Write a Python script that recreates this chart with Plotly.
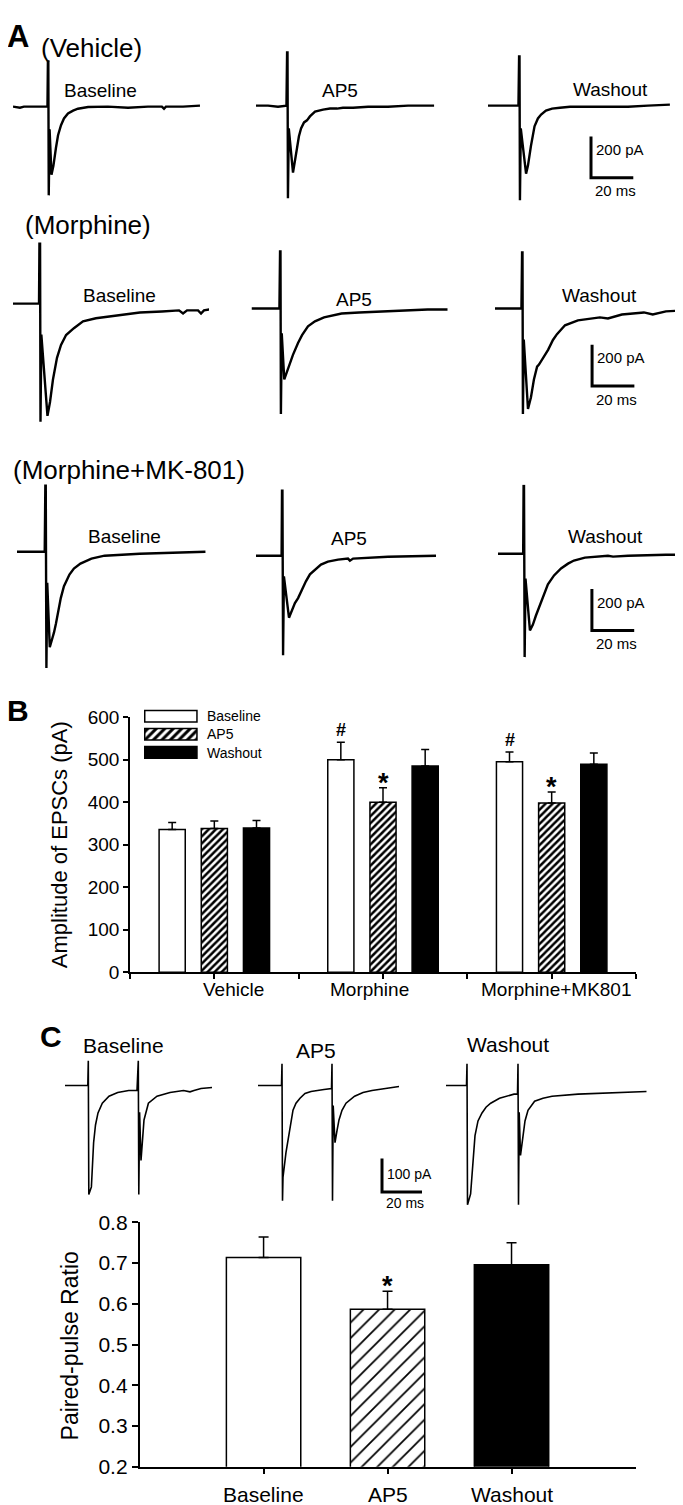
"""Recreation of EPSC / paired-pulse figure: traces (A, C) and bar charts (B, C)"""
import plotly.graph_objects as go

W, H = 683, 1505
FONT = "Liberation Sans, Arial, sans-serif"

# ---------------- data: panel A traces (time in ms, current in pA) ----------------
veh_base_t = [0, 3.3, 5.2, 9.5, 16.3, 16.5, 16.7, 16.9, 17.3, 18.2, 19.1, 20.3, 21.3, 22.7, 24.1, 26, 28.4, 30.7, 35.5, 44.9, 54.4, 63.8, 70.4, 71.4, 72.3, 80.4, 88.4]
veh_base_i = [0, -5, 0, 0, 0, 219, 219, -429, -110, -329, -286, -200, -138, -90, -57, -33, -19, -10, -2, 0, -5, 0, 0, -10, 0, 0, 5]
veh_ap5_t = [0, 5.7, 10.4, 14.4, 14.7, 14.9, 15.1, 15.5, 17.5, 18.4, 19.4, 20.3, 21.3, 22.7, 24.1, 25.5, 27.9, 31.7, 35, 38.3, 41.1, 45.9, 53, 62.4, 71.9, 84.2]
veh_ap5_i = [0, 0, -5, 0, 257, 257, -448, -110, -324, -276, -205, -148, -110, -81, -71, -52, -29, -19, -14, -14, -10, -10, -5, -5, 0, 0]
veh_wash_t = [0, 7.1, 14.4, 14.7, 14.9, 15.1, 15.5, 18, 18.9, 20.3, 22, 23.6, 25.1, 27.4, 30.3, 34, 38.8, 47.3, 56.7, 66.2, 75.6, 86]
veh_wash_i = [0, 0, 0, 238, 238, -457, -110, -329, -290, -195, -100, -62, -43, -24, -14, -10, -5, -5, -5, -5, 0, 5]

mor_base_t = [0, 12.3, 12.5, 12.8, 13, 13.4, 16.3, 17.5, 18.9, 20.8, 22.7, 25.1, 28.8, 33.1, 39.2, 49.6, 60, 70.4, 78.5, 80.4, 82.3, 87.5, 88.9, 90.3, 95]
mor_base_i = [0, 0, 290, 290, -571, -150, -543, -476, -367, -262, -200, -152, -119, -86, -71, -57, -43, -38, -33, -48, -33, -33, -48, -33, -24]
mor_ap5_t = [0, 13.2, 13.5, 13.7, 13.9, 14.3, 15.5, 16.7, 18.2, 19.6, 22, 23.9, 26.7, 30, 34.3, 42.6, 50.9, 61.3, 71.7, 83.3, 94.7]
mor_ap5_i = [0, 0, 276, 276, -510, -120, -343, -305, -262, -224, -167, -129, -86, -62, -43, -24, -19, -14, -10, -5, -5]
mor_wash_t = [0, 12.5, 12.8, 13, 13.2, 13.6, 15.6, 17, 18.4, 19.9, 20.8, 22.7, 25.1, 27.4, 29.3, 33.1, 39.2, 49.6, 53.4, 60, 70.4, 74.6, 80.8, 87.5, 92.2]
mor_wash_i = [0, 0, 271, 271, -510, -150, -486, -429, -343, -281, -271, -238, -200, -152, -124, -81, -57, -43, -48, -29, -19, -29, -14, -10, -19]

mk_base_t = [0, 13.1, 13.4, 13.6, 13.9, 14.3, 15.5, 16.5, 17.5, 18.4, 19.6, 20.7, 22.2, 24.8, 26.9, 30, 35.2, 41.4, 58, 71.4, 89.1]
mk_base_i = [0, 0, 319, 319, -562, -150, -462, -429, -390, -348, -276, -224, -167, -110, -81, -57, -33, -19, -10, -5, 0]
mk_ap5_t = [0, 12.1, 12.3, 12.5, 12.8, 13.2, 15.6, 17, 18.4, 19.9, 21.7, 23.6, 25.5, 27.9, 30.7, 34, 38.8, 43.5, 44.4, 45.9, 62.4, 85.1]
mk_ap5_i = [0, 0, 314, 314, -481, -100, -300, -267, -229, -205, -162, -124, -90, -67, -43, -29, -19, -14, -24, -14, -5, 0]
mk_wash_t = [0, 11.9, 12.1, 12.3, 12.6, 13, 15.1, 16.5, 17.9, 19.4, 21.3, 23.6, 26.5, 29.8, 33.1, 35.9, 41.1, 46.3, 52, 54.4, 61.5, 79.4, 85.6]
mk_wash_i = [0, 0, 329, 329, -500, -120, -371, -343, -300, -262, -205, -148, -105, -71, -48, -33, -19, -14, -10, -14, -10, -5, -5]

# ---------------- data: panel C paired-pulse traces ----------------
pp_base_t = [0, 6.5, 11.4, 11.65, 11.9, 13.2, 14.3, 15.25, 16.5, 18.65, 22, 26.35, 31.85, 34.5, 36, 36.65, 36.9, 37.3, 38, 39.5, 41.7, 46, 52.5, 59.25, 62.5, 64.5, 68, 73.5]
pp_base_i = [0, 0, 0, 74, -326, -303, -171, -118, -82, -53, -32, -21, -15, -15, -15, 74, -326, -80, -224, -103, -53, -32, -21, -15, -19, -15, -9, -6]
pp_ap5_t = [0, 6, 11.75, 12, 12.25, 12.5, 14, 15.5, 16.5, 17.5, 19, 21, 23.5, 26.5, 33, 36.75, 37, 37.25, 37.6, 38.5, 39.5, 40.5, 42, 44, 48.3, 52.5, 57, 70.5]
pp_ap5_i = [0, 0, 0, 65, -344, -274, -200, -150, -106, -74, -53, -38, -24, -18, -12, -9, 65, -344, -60, -171, -135, -103, -74, -53, -32, -21, -15, -3]
pp_wash_t = [0, 6, 10.25, 10.5, 10.75, 12.3, 13.5, 14.5, 16, 18, 20, 22.35, 26.75, 31, 34, 35.75, 36, 36.25, 36.6, 37.25, 38.5, 39.5, 41, 44.3, 48.5, 53, 66, 77, 88, 100.25]
pp_wash_i = [0, 0, 0, 65, -356, -324, -229, -150, -106, -82, -65, -53, -38, -32, -26, -26, 65, -356, -80, -209, -141, -106, -74, -47, -38, -32, -26, -24, -21, -18]

# scale bars (ms, pA)
scale_a = (20, 200)
scale_c = (20, 100)

# ---------------- data: panel B (EPSC amplitude, pA) ----------------
groups = ["Vehicle", "Morphine", "Morphine+MK801"]
conditions = ["Baseline", "AP5", "Washout"]
amp_baseline = [336, 500, 495]
amp_baseline_sem = [16, 41, 23]
amp_ap5 = [338, 400, 398]
amp_ap5_sem = [18, 34, 26]
amp_washout = [339, 485, 489]
amp_washout_sem = [18, 39, 27]

# ---------------- data: panel C (paired-pulse ratio) ----------------
ppr_mean = [0.714, 0.587, 0.696]
ppr_sem = [0.050, 0.044, 0.054]

fig = go.Figure()
layout_axes = {}
annotations = []


def fx(px):
    return px / W


def fy(px):
    return 1 - px / H


def note(text, x, y, size, **kw):
    d = dict(text=text, x=fx(x), y=fy(y), xref="paper", yref="paper", showarrow=False,
             xanchor="center", yanchor="middle",
             font=dict(family=FONT, size=size, color="black"))
    d.update(kw)
    annotations.append(d)


def trace_axes(n, t, i, x0, y0, pxms, pxpa, width, above, below, lw):
    right = min(x0 + width, W)
    layout_axes[f"xaxis{n}"] = dict(domain=[fx(x0), fx(right)], range=[0, (right - x0) / pxms],
                                    visible=False, anchor=f"y{n}", fixedrange=True)
    layout_axes[f"yaxis{n}"] = dict(domain=[fy(y0 + below), fy(y0 - above)],
                                    range=[-below / pxpa, above / pxpa],
                                    visible=False, anchor=f"x{n}", fixedrange=True)
    fig.add_trace(go.Scatter(x=t, y=i, xaxis=f"x{n}", yaxis=f"y{n}", mode="lines",
                             line=dict(color="black", width=lw, shape="linear"),
                             showlegend=False, hoverinfo="skip"))


def scale_bar(n, t0, i0, ms, pa, lw, dy_pa, dy_ms, size, label_pa):
    fig.add_trace(go.Scatter(x=[t0, t0, t0 + ms], y=[i0 + pa, i0, i0], xaxis=f"x{n}", yaxis=f"y{n}",
                             mode="lines", line=dict(color="black", width=lw),
                             showlegend=False, hoverinfo="skip"))
    annotations.append(dict(text=label_pa, x=t0, y=i0 + pa, xref=f"x{n}", yref=f"y{n}",
                            xanchor="left", yanchor="middle", xshift=3, yshift=dy_pa, showarrow=False,
                            font=dict(family=FONT, size=size, color="black")))
    annotations.append(dict(text=f"{ms} ms", x=t0 + ms / 2, y=i0, xref=f"x{n}", yref=f"y{n}",
                            xanchor="center", yanchor="middle", xshift=3, yshift=dy_ms, showarrow=False,
                            font=dict(family=FONT, size=size, color="black")))


# ---------------- panel A ----------------
A_PX_MS, A_PX_PA = 2.115, 0.21
rows_a = [
    [(veh_base_t, veh_base_i, 5, 88), (veh_ap5_t, veh_ap5_i, 248, 87), (veh_wash_t, veh_wash_i, 480, 87)],
    [(mor_base_t, mor_base_i, 5, 288), (mor_ap5_t, mor_ap5_i, 243.5, 293), (mor_wash_t, mor_wash_i, 487, 293)],
    [(mk_base_t, mk_base_i, 9, 540), (mk_ap5_t, mk_ap5_i, 248, 544), (mk_wash_t, mk_wash_i, 490, 542)],
]
bar_pos_a = [(48.7, -349), (45.9, -375), (44.4, -371)]
n = 1
for r, row in enumerate(rows_a):
    for c, (t, i, x0, y0) in enumerate(row):
        trace_axes(n, t, i, x0, y0, A_PX_MS, A_PX_PA, 196, 70, 130, 2.4)
        if c == 2:
            scale_bar(n, bar_pos_a[r][0], bar_pos_a[r][1], scale_a[0], scale_a[1], 3,
                      -13, -13, 15, f"{scale_a[1]} pA")
        n += 1

note("<b>A</b>", 10, 17, 31)
note("(Vehicle)", 83, 28, 26)
note("(Morphine)", 80, 208, 26)
note("(Morphine+MK-801)", 121, 457, 26)
label_pos_a = [[(92, 72), (332, 72), (602, 71)],
               [(111, 280), (346, 284), (591, 280)],
               [(116, 525), (341, 527), (597, 525)]]
for row in label_pos_a:
    for name, (x, y) in zip(conditions, row):
        note(name, x, y, 19)

# ---------------- panel C traces ----------------
C_PX_MS, C_PX_PA = 2.0, 0.34
rows_c = [(pp_base_t, pp_base_i, 57), (pp_ap5_t, pp_ap5_i, 250), (pp_wash_t, pp_wash_i, 438)]
for c, (t, i, x0) in enumerate(rows_c):
    trace_axes(n, t, i, x0, 1082, C_PX_MS, C_PX_PA, 210, 40, 130, 1.6)
    if c == 1:
        scale_bar(n, 62, -318, scale_c[0], scale_c[1], 3, -16, -11, 14, f"{scale_c[1]} pA")
    n += 1
note("<b>C</b>", 43, 1032, 30)
for name, (x, y) in zip(conditions, [(115, 1041), (308, 1047), (500, 1040)]):
    note(name, x, y, 21)

# ---------------- panel B bar chart ----------------
nb = n
styles = [
    dict(color="white", pattern=dict(shape="")),
    dict(color="white", pattern=dict(shape="/", fgcolor="black", bgcolor="white", size=5,
                                     solidity=0.5, fgopacity=1)),
    dict(color="black", pattern=dict(shape="")),
]
series_b = [(amp_baseline, amp_baseline_sem), (amp_ap5, amp_ap5_sem), (amp_washout, amp_washout_sem)]
offsets = [0.25, 0.5, 0.75]
for (vals, sem), sty, off in zip(series_b, styles, offsets):
    fig.add_trace(go.Bar(
        x=[g + off for g in range(len(groups))], y=vals, width=0.155,
        marker=dict(color=sty["color"], pattern=sty["pattern"], line=dict(color="black", width=1.5)),
        error_y=dict(type="data", array=sem, arrayminus=[0] * len(sem), symmetric=False,
                     color="black", thickness=1.5, width=4),
        xaxis=f"x{nb}", yaxis=f"y{nb}", showlegend=False, hoverinfo="skip"))

layout_axes[f"xaxis{nb}"] = dict(domain=[fx(122), fx(628)], range=[0, 3], anchor=f"y{nb}",
                                 showline=True, linecolor="black", linewidth=1.5, ticks="outside",
                                 ticklen=5, tickwidth=1.5, tickcolor="black",
                                 tickvals=[0, 0.5, 1, 1.5, 2, 2.5, 3], showticklabels=False,
                                 showgrid=False, zeroline=False, fixedrange=True)
layout_axes[f"yaxis{nb}"] = dict(domain=[fy(967), fy(708)], range=[0, 600], anchor=f"x{nb}",
                                 showline=True, linecolor="black", linewidth=1.5, ticks="outside",
                                 ticklen=5, tickwidth=1.5, tickcolor="black", dtick=100,
                                 tickfont=dict(family=FONT, size=19, color="black"),
                                 showgrid=False, zeroline=False, fixedrange=True)
for name, xpos in zip(groups, [0.613, 1.42, 2.53]):
    annotations.append(dict(text=name, x=xpos, y=fy(985), xref=f"x{nb}", yref="paper",
                            xanchor="center", yanchor="middle",
                            showarrow=False, font=dict(family=FONT, size=19, color="black")))
note("<b>B</b>", 10, 701, 30)
note("Amplitude of EPSCs (pA)", 51, 838, 22, textangle=-90)

# significance marks
marks_b = [("#", 1, 0), ("#", 2, 0), ("*", 1, 1), ("*", 2, 1)]
for sym, g, s in marks_b:
    vals, sem = series_b[s]
    bold = sym == "*"
    annotations.append(dict(text=f"<b>{sym}</b>", x=g + offsets[s], y=vals[g] + sem[g],
                            xref=f"x{nb}", yref=f"y{nb}", xanchor="center", yanchor="bottom",
                            showarrow=False, yshift=-12 if bold else 0,
                            font=dict(family=FONT, size=27 if bold else 18, color="black")))
n += 1

# legend swatches for B
nl = n
for name, sty in zip(conditions, styles):
    pat = dict(sty["pattern"])
    if pat["shape"]:
        pat["size"] = 6
    fig.add_trace(go.Bar(x=[1], y=[name], orientation="h", width=0.64,
                         marker=dict(color=sty["color"], pattern=pat, line=dict(color="black", width=1.5)),
                         xaxis=f"x{nl}", yaxis=f"y{nl}", showlegend=False, hoverinfo="skip"))
layout_axes[f"xaxis{nl}"] = dict(domain=[fx(135.7), fx(190)], range=[-0.02, 1.02], visible=False,
                                 anchor=f"y{nl}", fixedrange=True)
layout_axes[f"yaxis{nl}"] = dict(domain=[fy(752.9), fy(697.9)], autorange="reversed", visible=False,
                                 anchor=f"x{nl}", fixedrange=True, categoryorder="array",
                                 categoryarray=conditions)
for name, y in zip(conditions, [707, 725, 744]):
    note(name, 197, y, 14, xanchor="left")
n += 1

# ---------------- panel C bar chart ----------------
nc = n
styles_c = [
    dict(color="white", pattern=dict(shape="")),
    dict(color="white", pattern=dict(shape="/", fgcolor="black", bgcolor="white", size=11,
                                     solidity=0.16, fgopacity=1)),
    dict(color="black", pattern=dict(shape="")),
]
for k, sty in enumerate(styles_c):
    fig.add_trace(go.Bar(
        x=[k + 1], y=[ppr_mean[k]], width=0.6,
        marker=dict(color=sty["color"], pattern=sty["pattern"], line=dict(color="black", width=1.5)),
        error_y=dict(type="data", array=[ppr_sem[k]], arrayminus=[0], symmetric=False,
                     color="black", thickness=1.5, width=5),
        xaxis=f"x{nc}", yaxis=f"y{nc}", showlegend=False, hoverinfo="skip"))
layout_axes[f"xaxis{nc}"] = dict(domain=[fx(131.6), fx(627.5)], range=[0, 4], anchor=f"y{nc}",
                                 showline=True, linecolor="black", linewidth=1.5, ticks="outside",
                                 ticklen=5, tickwidth=1.5, tickcolor="black", tickvals=[1, 2, 3],
                                 showticklabels=False, showgrid=False, zeroline=False, fixedrange=True)
layout_axes[f"yaxis{nc}"] = dict(domain=[fy(1469.3), fy(1221)], range=[0.2, 0.8], anchor=f"x{nc}",
                                 showline=True, linecolor="black", linewidth=1.5, ticks="outside",
                                 ticklen=6, tickwidth=1.5, tickcolor="black", dtick=0.1, tickformat=".1f",
                                 tickfont=dict(family=FONT, size=21, color="black"),
                                 showgrid=False, zeroline=False, fixedrange=True)
for k, name in enumerate(conditions):
    annotations.append(dict(text=name, x=k + 1, y=fy(1497), xref=f"x{nc}", yref="paper",
                            xanchor="center", yanchor="middle",
                            showarrow=False, font=dict(family=FONT, size=21, color="black")))
annotations.append(dict(text="<b>*</b>", x=2, y=ppr_mean[1] + ppr_sem[1], xref=f"x{nc}", yref=f"y{nc}",
                        xanchor="center", yanchor="bottom", yshift=-12, showarrow=False,
                        font=dict(family=FONT, size=27, color="black")))
note("Paired-pulse Ratio", 62, 1347, 23, textangle=-90)

fig.update_layout(
    width=W,
    height=H,
    margin=dict(l=0, r=0, t=0, b=0),
    paper_bgcolor="white",
    plot_bgcolor="white",
    barmode="overlay",
    showlegend=False,
    font=dict(family=FONT, color="black"),
    annotations=annotations,
    **layout_axes,
)

fig.write_html("out.html")
